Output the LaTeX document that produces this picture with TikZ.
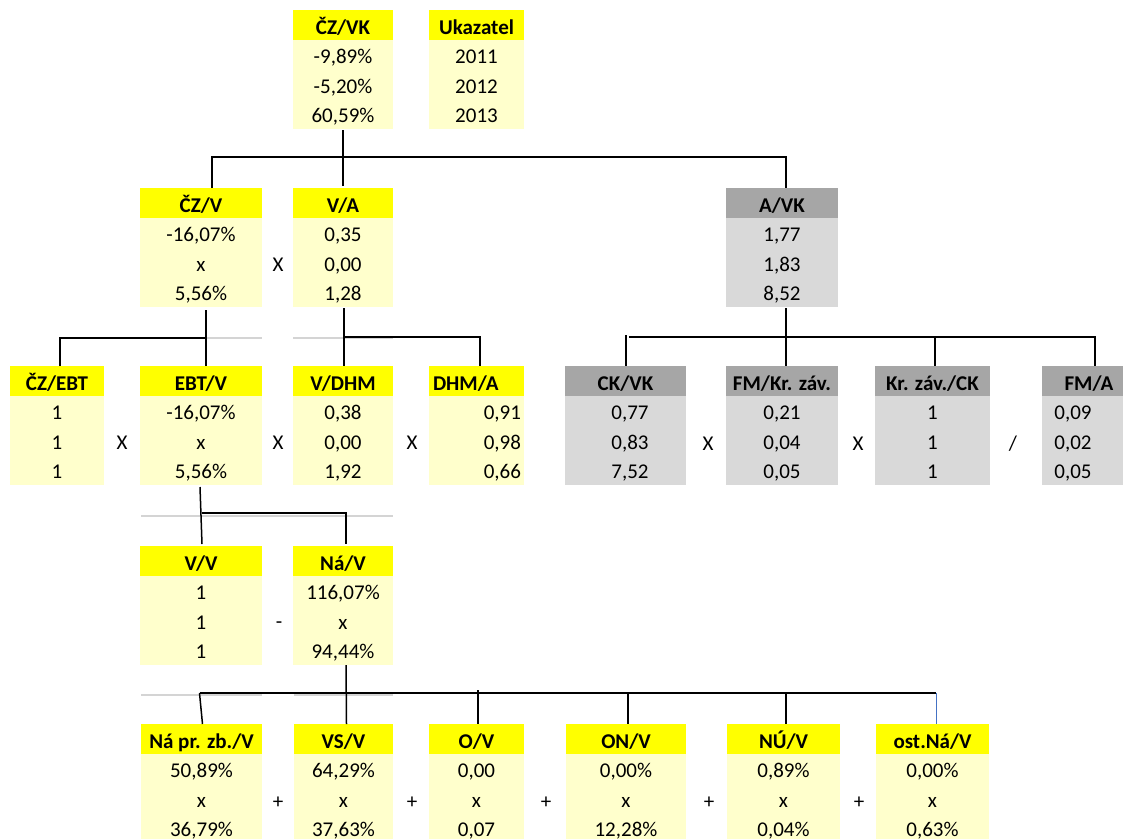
\documentclass[tikz,border=0pt]{standalone}
\usepackage{fontspec}
\setmainfont{Carlito}
\definecolor{hy}{HTML}{FFFF00}
\definecolor{by}{HTML}{FFFFCC}
\definecolor{hg}{HTML}{A6A6A6}
\definecolor{bg}{HTML}{D9D9D9}
\definecolor{gridgray}{HTML}{D4D4D4}
\definecolor{blueline}{HTML}{4472C4}
\tikzset{
  base/.style={inner sep=0pt, outer sep=0pt, font=\fontsize{21}{25}\selectfont, text height=13.5pt, text depth=0pt},
  hdbase/.style={base, minimum height=30pt, font=\fontsize{21}{25}\selectfont\bfseries, text height=19.5pt},
  hdY/.style={hdbase, fill=hy},
  hdG/.style={hdbase, fill=hg},
  bdY/.style={base, fill=by, minimum height=89pt},
  bdG/.style={base, fill=bg, minimum height=89pt},
  val/.style={base},
  op/.style={base},
  link/.style={draw=black, line width=1.5pt},
  gridln/.style={draw=gridgray, line width=1.8pt}
}
\newcommand\mkbox[9]{%
  \node[hd#5, minimum width={(#3-#2)*1pt}, anchor=north west] (#1) at (#2,#4) {#6};
  \node[bd#5, minimum width={(#3-#2)*1pt}, anchor=north] (#1-b) at (#1.south) {};
  \node[val] (#1-1) at ([yshift=-17pt]#1-b.north) {#7};
  \node[val] (#1-2) at ([yshift=-46.5pt]#1-b.north) {#8};
  \node[val] (#1-3) at ([yshift=-76pt]#1-b.north) {#9};
}
\begin{document}
\begin{tikzpicture}[x=1pt, y=-1pt]
\path[use as bounding box, clip] (0,0) rectangle (1126,838);
\fill[white] (0,0) rectangle (1126,838);

% gridline remnants
\draw[gridln] (140,338) -- (262,338);
\draw[gridln] (293,338) -- (393,338);
\draw[gridln] (141,516) -- (393,516);
\draw[gridln] (141,695) -- (262,695);
\draw[gridln] (294,695) -- (393,695);

% level 1
\mkbox{czvk}{293}{393}{10}{Y}{ČZ/VK}{-9,89\%}{-5,20\%}{60,59\%}
\mkbox{uk}{429}{524}{10}{Y}{Ukazatel}{2011}{2012}{2013}

% level 2
\mkbox{czv}{140}{262}{188}{Y}{ČZ/V}{-16,07\%}{x}{5,56\%}
\mkbox{va}{293}{393}{188}{Y}{V/A}{0,35}{0,00}{1,28}
\mkbox{avk}{726}{838}{188}{G}{A/VK}{1,77}{1,83}{8,52}
\node[op] (op1) at (278,265) {X};

% level 3
\mkbox{czebt}{10}{104}{366}{Y}{ČZ/EBT}{1}{1}{1}
\mkbox{ebtv}{140}{262}{366}{Y}{EBT/V}{-16,07\%}{x}{5,56\%}
\mkbox{vdhm}{293}{393}{366}{Y}{V/DHM}{0,38}{0,00}{1,92}
% DHM/A (left header, right values)
\node[hdY, minimum width=95pt, anchor=north west] (dhma) at (429,366) {};
\node[hdbase, anchor=west] (dhma-t) at ([xshift=4pt]dhma.west) {DHM/A};
\node[bdY, minimum width=95pt, anchor=north] (dhma-b) at (dhma.south) {};
\node[val, anchor=east] (dhma-1) at ([xshift=-3pt,yshift=-17pt]dhma-b.north east) {0,91};
\node[val, anchor=east] (dhma-2) at ([xshift=-3pt,yshift=-46.5pt]dhma-b.north east) {0,98};
\node[val, anchor=east] (dhma-3) at ([xshift=-3pt,yshift=-76pt]dhma-b.north east) {0,66};
\node[op] (op2) at (122,443) {X};
\node[op] (op3) at (278,443) {X};
\node[op] (op4) at (412,443) {X};

\mkbox{ckvk}{565}{686}{366}{G}{CK/VK}{\hspace*{9pt}0,77}{\hspace*{9pt}0,83}{\hspace*{9pt}7,52}
\mkbox{fmkz}{726}{838}{366}{G}{FM/Kr. záv.}{0,21}{0,04}{0,05}
\mkbox{kzck}{875}{990}{366}{G}{Kr. záv./CK}{1}{1}{1}
% FM/A
\node[hdG, minimum width=81pt, anchor=north west] (fma) at (1042,366) {};
\node[hdbase] (fma-t) at (1089,381) {FM/A};
\node[bdG, minimum width=81pt, anchor=north] (fma-b) at (fma.south) {};
\node[val] (fma-1) at (1073,413) {0,09};
\node[val] (fma-2) at (1073,442.5) {0,02};
\node[val] (fma-3) at (1073,472) {0,05};
\node[op] (op5) at (708,444) {X};
\node[op] (op6) at (858,444) {X};
\node[op] (op7) at (1013,444) {/};

% level 4
\mkbox{vv}{140}{262}{546}{Y}{V/V}{1}{1}{1}
\mkbox{nav}{293}{393}{546}{Y}{Ná/V}{116,07\%}{x}{94,44\%}
\node[op] (op8) at (279,622) {-};

% level 5
\mkbox{napr}{141}{262}{724}{Y}{Ná pr. zb./V}{50,89\%}{x}{36,79\%}
\mkbox{vsv}{294}{393}{724}{Y}{VS/V}{64,29\%}{x}{37,63\%}
\mkbox{ov}{429}{524}{724}{Y}{O/V}{0,00}{x}{0,07}
\mkbox{onv}{566}{686}{724}{Y}{ON/V}{0,00\%}{x}{12,28\%}
\mkbox{nuv}{727}{840}{724}{Y}{NÚ/V}{0,89\%}{x}{0,04\%}
\mkbox{ostv}{876}{989}{724}{Y}{ost.Ná/V}{0,00\%}{x}{0,63\%}
\node[op] (op9) at (278,802) {+};
\node[op] (op10) at (412,802) {+};
\node[op] (op11) at (546,802) {+};
\node[op] (op12) at (709,802) {+};
\node[op] (op13) at (859,802) {+};

% connectors L1 -> L2
\draw[link] ([yshift=-1pt]czvk-b.south) -- ([yshift=2pt]va.north);
\draw[link] ([xshift=11pt]czv.north) -- ++(0,-31) -| ([xshift=4pt]avk.north);

% L2 -> L3
\draw[link] ([xshift=5pt,yshift=-3pt]czv-b.south) -- ([xshift=5pt]ebtv.north);
\draw[link] ([xshift=3pt]czebt.north) -- ++(0,-28) -- ([xshift=5pt,yshift=28pt]ebtv.north);
\draw[link] ([xshift=1pt,yshift=-1pt]va-b.south) -- ([xshift=1pt]vdhm.north);
\draw[link] ([xshift=1pt,yshift=29pt]vdhm.north) -| ([xshift=3.5pt]dhma.north);

% A/VK -> gray row
\draw[link] ([xshift=4pt,yshift=-1pt]avk-b.south) -- ([xshift=4pt]fmkz.north);
\draw[link] ([xshift=0.5pt,yshift=31pt]ckvk.north) -- ([xshift=0.5pt]ckvk.north);
\draw[link] ([xshift=3.5pt,yshift=29pt]ckvk.north) -| ([xshift=12.5pt]fma.north);
\draw[link] ([xshift=2.5pt,yshift=29pt]kzck.north) -- ([xshift=2.5pt]kzck.north);

% EBT/V -> L4
\draw[link] ([xshift=-1pt,yshift=-2pt]ebtv-b.south) -- ([xshift=1pt,yshift=2pt]vv.north);
\draw[link] ([xshift=1pt,yshift=33pt]vv.north) -| ([xshift=3pt,yshift=2pt]nav.north);

% Ná/V -> L5
\draw[link] ([xshift=3pt]nav-b.south) -- ([xshift=3pt]vsv.north);
\draw[link] ([xshift=-2pt,yshift=31pt]napr.north) -- ([xshift=1pt]napr.north);
\draw[link] ([xshift=-2pt,yshift=31pt]napr.north) -- ([xshift=3.5pt,yshift=31pt]ostv.north);
\draw[link] ([xshift=1.5pt,yshift=34pt]ov.north) -- ([xshift=1.5pt]ov.north);
\draw[link] ([xshift=2pt,yshift=31pt]onv.north) -- ([xshift=2pt]onv.north);
\draw[link] ([xshift=2.5pt,yshift=31pt]nuv.north) -- ([xshift=2.5pt]nuv.north);
\draw[link, draw=blueline, line width=1pt] ([xshift=3.5pt,yshift=31pt]ostv.north) -- ([xshift=3.5pt]ostv.north);
\end{tikzpicture}
\end{document}
